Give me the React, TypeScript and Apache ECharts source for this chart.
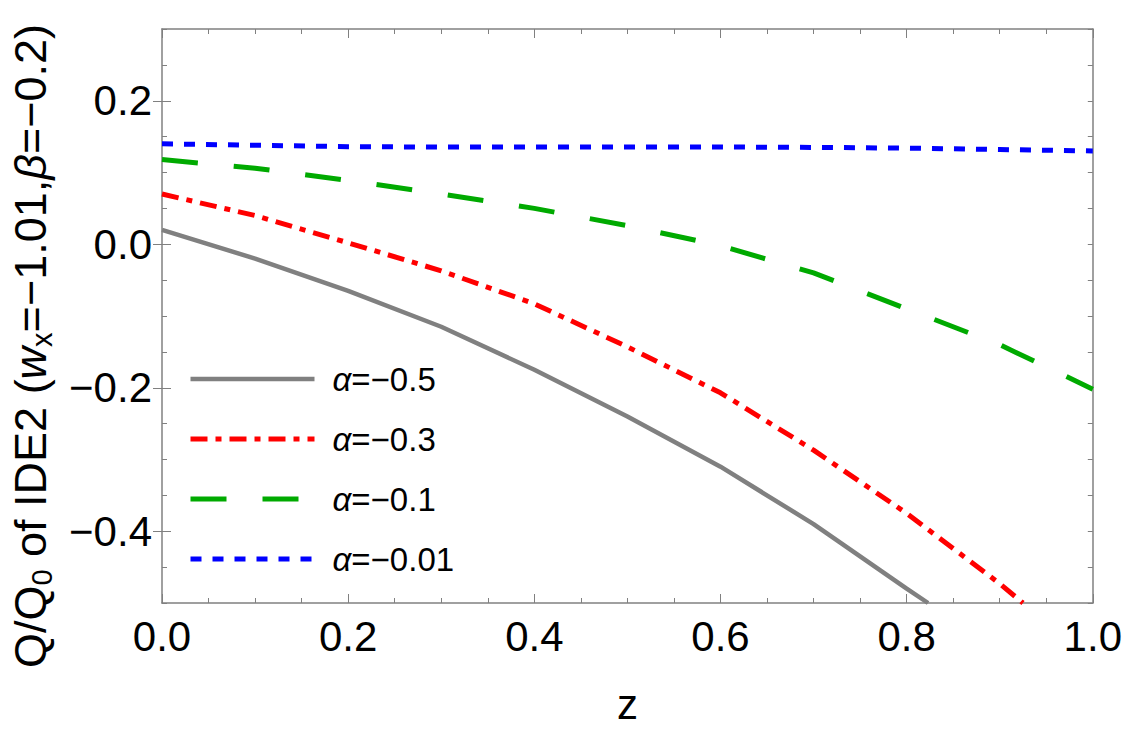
import React, { useEffect, useRef } from "react";
import * as echarts from "echarts";

const FONT = "'Liberation Sans', Arial, Helvetica, sans-serif";

const seriesNames = ["α=−0.5", "α=−0.3", "α=−0.1", "α=−0.01"];
const seriesColors = ["#808080", "#ff0000", "#00aa00", "#0000ff"];
const seriesWidths = [4.5, 5, 5, 5];

const zGray = [0, 0.1, 0.2, 0.3, 0.4, 0.5, 0.6, 0.7, 0.8, 0.823];
const qGray = [0.02, -0.02, -0.065, -0.115, -0.175, -0.24, -0.31, -0.39, -0.48, -0.5];

const zRed = [0, 0.1, 0.2, 0.3, 0.4, 0.5, 0.6, 0.7, 0.8, 0.9, 0.925];
const qRed = [0.07, 0.04, 0.002, -0.037, -0.083, -0.143, -0.207, -0.287, -0.375, -0.473, -0.5];

const zGreen = [0, 0.1, 0.2, 0.3, 0.4, 0.5, 0.6, 0.7, 0.8, 0.9, 1.0];
const qGreen = [0.118, 0.106, 0.089, 0.07, 0.05, 0.026, -0.002, -0.04, -0.09, -0.14, -0.202];

const zBlue = [0, 0.1, 0.2, 0.3, 0.4, 0.5, 0.6, 0.7, 0.8, 0.9, 1.0];
const qBlue = [0.14, 0.138, 0.136, 0.1355, 0.1355, 0.1355, 0.1355, 0.135, 0.134, 0.132, 0.13];

const yMajorTicks = [-0.4, -0.2, 0, 0.2];

const zip = (xs: number[], ys: number[]) => xs.map((x, i) => [x, ys[i]]);

const fmt = (v: number) => {
  const s = Math.abs(v).toFixed(1);
  return v < -1e-9 ? "−" + s : s;
};

export default function App() {
  const ref = useRef<HTMLDivElement>(null);
  useEffect(() => {
    if (!ref.current) return;
    const chart = echarts.init(ref.current, undefined, { renderer: "svg" });
    const axisColor = "#808080";
    const grid = { left: 162, right: 32, top: 29, bottom: 129 };
    const lineStyle = { color: axisColor, width: 1.5 };
    const tickLine = { color: axisColor, width: 1 };
    const xBase = {
      type: "value",
      min: 0,
      max: 1,
      interval: 0.2,
      splitLine: { show: false },
      axisLine: { show: true, onZero: false, lineStyle },
      axisTick: { show: true, inside: true, length: 9, lineStyle: tickLine },
      minorTick: { show: true, splitNumber: 4, length: 5, lineStyle: tickLine },
    };
    const yBase = {
      type: "value",
      min: -0.5,
      max: 0.3,
      interval: 0.05,
      splitLine: { show: false },
      axisLine: { show: true, onZero: false, lineStyle },
      axisTick: { show: true, inside: true, length: 5, lineStyle: tickLine },
    };
    const yMajor = {
      type: "value",
      min: -0.5,
      max: 0.3,
      splitLine: { show: false },
      axisLine: { show: false },
      axisLabel: { show: false },
      axisTick: { show: true, inside: true, length: 9, lineStyle: tickLine, customValues: yMajorTicks },
    };
    const dashes: any[] = ["solid", [17, 8, 6, 8], [36, 36], [11, 11]];
    const mk = (idx: number, data: number[][]) => ({
      name: seriesNames[idx],
      type: "line",
      data,
      showSymbol: false,
      symbol: "none",
      smooth: false,
      clip: true,
      lineStyle: { color: seriesColors[idx], width: seriesWidths[idx], type: dashes[idx] },
      itemStyle: { color: seriesColors[idx] },
    });
    chart.setOption({
      animation: false,
      backgroundColor: "#ffffff",
      grid,
      xAxis: [
        {
          ...xBase,
          position: "bottom",
          axisLabel: {
            show: true,
            fontSize: 42,
            color: "#000",
            fontFamily: FONT,
            margin: 12,
            formatter: (v: number) => fmt(v),
          },
          name: "z",
          nameLocation: "middle",
          nameGap: 80,
          nameTextStyle: { fontSize: 42, color: "#000", fontFamily: FONT },
        },
        { ...xBase, position: "top", axisLabel: { show: false } },
      ],
      yAxis: [
        {
          ...yBase,
          position: "left",
          axisLabel: {
            show: true,
            fontSize: 42,
            color: "#000",
            fontFamily: FONT,
            margin: 10,
            formatter: (v: number) => {
              const r = v / 0.2;
              return Math.abs(r - Math.round(r)) < 1e-6 ? fmt(v) : "";
            },
          },
        },
        { ...yBase, position: "right", axisLabel: { show: false } },
        { ...yMajor, position: "left" },
        { ...yMajor, position: "right" },
      ],
      legend: {
        show: true,
        orient: "vertical",
        left: 188,
        top: 359,
        padding: 0,
        itemWidth: 124,
        itemHeight: 20,
        itemGap: 20,
        itemStyle: { opacity: 0 },
        data: seriesNames.map((n, i) => ({
          name: n,
          itemStyle: { opacity: 0 },
          lineStyle: { width: seriesWidths[i], color: seriesColors[i], type: dashes[i] },
        })),
        formatter: (name: string) => name.replace("α", "{a|α}"),
        textStyle: {
          fontSize: 33,
          color: "#000",
          fontFamily: FONT,
          lineHeight: 40,
          padding: [0, 0, 0, 13],
          rich: {
            a: { fontSize: 33, fontStyle: "italic", fontFamily: FONT, color: "#000" },
          },
        },
      },
      graphic: [
        {
          type: "text",
          x: 30,
          y: 346,
          rotation: Math.PI / 2,
          style: {
            text: "{n|Q/Q}{s|0}{n| of IDE2 (}{i|w}{s|x}{n|=−1.01,}{i|β}{n|=−0.2)}",
            align: "center",
            verticalAlign: "middle",
            fill: "#000",
            rich: {
              n: { fontSize: 45, fontFamily: FONT, fill: "#000", lineHeight: 52 },
              i: { fontSize: 45, fontFamily: FONT, fontStyle: "italic", fill: "#000", lineHeight: 52 },
              s: { fontSize: 29, fontFamily: FONT, fill: "#000", verticalAlign: "bottom", lineHeight: 30 },
            },
          },
        },
      ],
      series: [
        mk(0, zip(zGray, qGray)),
        mk(1, zip(zRed, qRed)),
        mk(2, zip(zGreen, qGreen)),
        mk(3, zip(zBlue, qBlue)),
      ],
    });
    return () => chart.dispose();
  }, []);
  return (
    <div
      ref={ref}
      style={{ position: "fixed", left: 0, top: 0, width: 1125, height: 732, background: "#fff" }}
    />
  );
}
